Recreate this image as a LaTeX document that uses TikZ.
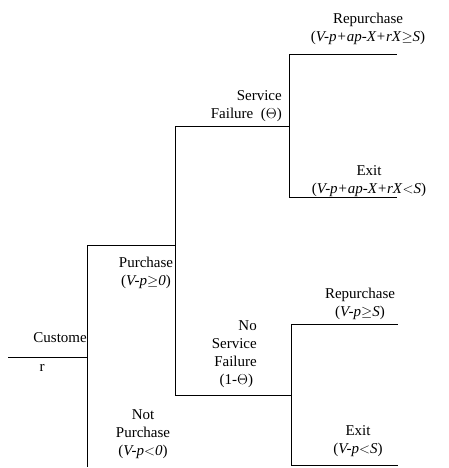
\documentclass[tikz,border=0pt]{standalone}
\usepackage{fontspec}
\setmainfont{Liberation Serif}
\usetikzlibrary{positioning}
\tikzset{
  branch/.style = {line width=1pt, line cap=rect},
  lbl/.style    = {align=center, inner sep=0pt,
                   font=\fontsize{15}{18}\selectfont},
}

\begin{document}
\begin{tikzpicture}[x=1pt,y=-1pt]
\useasboundingbox (0,0) rectangle (448,468);
% decision points
\coordinate (root)  at (8,357);
\coordinate (cust)  at (87,357);
\coordinate (custT) at (87,245);
\coordinate (custB) at (87,466);
\coordinate (buy)   at (175,245);
\coordinate (buyT)  at (175,126);
\coordinate (buyB)  at (175,395);
\coordinate (fail)  at (289,126);
\coordinate (failT) at (289,55);
\coordinate (failB) at (289,197);
\coordinate (repA)  at (396,55);
\coordinate (exA)   at (396,197);
\coordinate (ok)    at (291,395);
\coordinate (okT)   at (291,324);
\coordinate (okB)   at (291,465);
\coordinate (repB)  at (397,324);
\coordinate (exB)   at (397,465);
% tree
\draw[branch] (root) -- (cust);
\draw[branch] (custB) -- (custT) -- (buy);
\draw[branch] (buyT) -- (buyB);
\draw[branch] (buyT) -- (fail);
\draw[branch] (failT) -- (failB);
\draw[branch] (failT) -- (repA);
\draw[branch] (failB) -- (exA);
\draw[branch] (buyB) -- (ok);
\draw[branch] (okT) -- (okB);
\draw[branch] (okT) -- (repB);
\draw[branch] (okB) -- (exB);
% labels
\node[lbl,anchor=east] (custlbl) at (87,338) {Custome};
\node[lbl] (custr) at (42,368) {r};
\node[lbl] (buylbl) at (146,273) {Purchase\\(\textit{V-p}$\geq$\textit{0})};
\node[lbl] (notbuy) at (143,434) {Not\\Purchase\\(\textit{V-p}$<$\textit{0})};
\node[lbl,align=right,anchor=east] (faillbl) at (282,106) {Service\\Failure\ \ ($\Theta$)};
\node[lbl,align=right,anchor=east] (oklbl) at (257,354) {No\\Service\\Failure\\(1-$\Theta$)\ \ };
\node[lbl] (replblA) at (368,29) {Repurchase\\(\textit{V-p+ap-X+rX}$\geq$\textit{S})};
\node[lbl] (exlblA) at (369,181) {Exit\\(\textit{V-p+ap-X+rX}$<$\textit{S})};
\node[lbl] (replblB) at (360,304) {Repurchase\\(\textit{V-p}$\geq$\textit{S})};
\node[lbl] (exlblB) at (358,441) {Exit\\(\textit{V-p}$<$\textit{S})};
\end{tikzpicture}
\end{document}
